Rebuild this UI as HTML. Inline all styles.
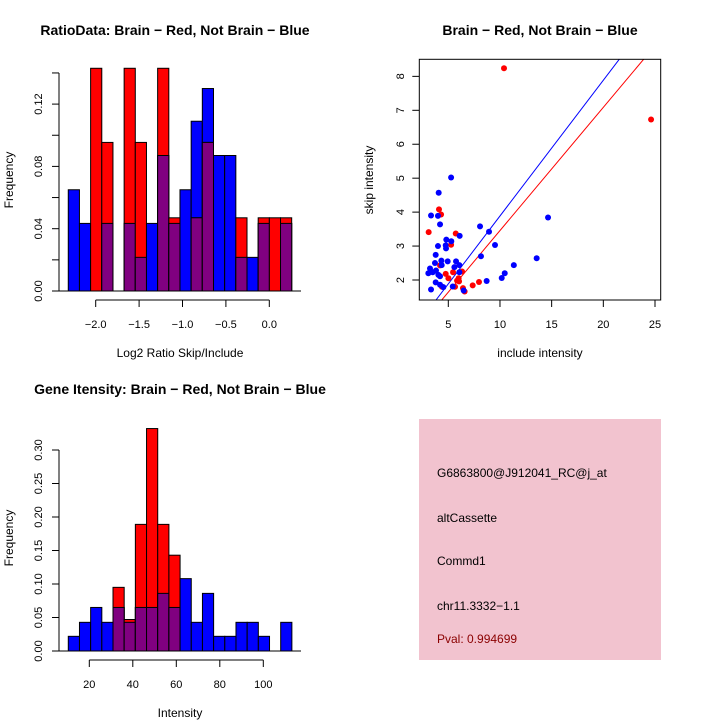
<!DOCTYPE html>
<html><head><meta charset="utf-8"><style>
html,body{margin:0;padding:0;background:#fff}
svg{display:block;font-family:"Liberation Sans",sans-serif}
</style></head><body>
<svg id="chart" width="720" height="720" viewBox="0 0 720 720" xmlns="http://www.w3.org/2000/svg">
<rect width="720" height="720" fill="#fff"/>
<text x="175" y="35" text-anchor="middle" font-size="14" font-weight="bold">RatioData: Brain − Red, Not Brain − Blue</text>
<text x="180" y="357" text-anchor="middle" font-size="12">Log2 Ratio Skip/Include</text>
<text transform="translate(13,180) rotate(-90)" text-anchor="middle" font-size="12">Frequency</text>
<text x="540" y="35" text-anchor="middle" font-size="14" font-weight="bold">Brain − Red, Not Brain − Blue</text>
<text x="540" y="357" text-anchor="middle" font-size="12">include intensity</text>
<text transform="translate(373,180) rotate(-90)" text-anchor="middle" font-size="12">skip intensity</text>
<text x="180" y="394" text-anchor="middle" font-size="14" font-weight="bold">Gene Itensity: Brain − Red, Not Brain − Blue</text>
<text x="180" y="717" text-anchor="middle" font-size="12">Intensity</text>
<text transform="translate(13,538) rotate(-90)" text-anchor="middle" font-size="12">Frequency</text>
<g>
<rect x="419" y="419" width="242" height="241" fill="#f2c3cf"/>
<text x="437" y="477" font-size="12">G6863800@J912041_RC@j_at</text>
<text x="437" y="522" font-size="12">altCassette</text>
<text x="437" y="565" font-size="12">Commd1</text>
<text x="437" y="610" font-size="12">chr11.3332−1.1</text>
<text x="437" y="643" font-size="12" fill="#8b0000">Pval: 0.994699</text>
</g>
<g id="g1"></g><g id="g2"></g><g id="g3"></g>
</svg>
<script>
// ---- Ratio histogram data ----
var ratioStart = -2.316, ratioBin = 0.1287;
var ratioBlue = [0.065,0.0434,0,0.0434,0,0.0434,0.0216,0.0434,0.087,0.0434,0.065,0.109,0.130,0.087,0.087,0.0216,0.0216,0.0434,0,0.0434];
var ratioRed  = [0,0,0.143,0.0954,0,0.143,0.0954,0,0.143,0.047,0,0.047,0.0954,0,0,0.047,0,0.047,0.047,0.047];
var ratioYTicks = [0,0.02,0.04,0.06,0.08,0.10,0.12,0.14];
var ratioYLabels = ["0.00","","0.04","","0.08","","0.12",""];
var ratioXTicks = [-2.0,-1.5,-1.0,-0.5,0.0];
var ratioXLabels = ["−2.0","−1.5","−1.0","−0.5","0.0"];
// ---- Intensity histogram data ----
var intStart = 10.34, intBin = 5.14;
var intBlue = [0.0219,0.0428,0.065,0.0428,0.065,0.0428,0.065,0.065,0.086,0.065,0.108,0.0428,0.086,0.0219,0.0219,0.0428,0.0428,0.0219,0,0.0428];
var intRed  = [0,0,0,0,0.095,0.047,0.189,0.332,0.189,0.143,0,0,0,0,0,0,0,0,0,0];
var intYTicks = [0,0.05,0.10,0.15,0.20,0.25,0.30];
var intYLabels = ["0.00","0.05","0.10","0.15","0.20","0.25","0.30"];
var intXTicks = [20,40,60,80,100];
// ---- Scatter data ----
var redX = [10.39,24.62,3.10,4.10,4.30,5.72,5.27,4.20,4.75,5.01,5.46,5.85,6.04,6.33,4.39,5.65,6.42,6.58,7.36,7.97,6.00];
var redY = [8.24,6.73,3.41,4.08,3.93,3.37,3.04,2.43,2.18,2.05,2.23,1.98,1.96,2.25,1.80,1.80,1.76,1.66,1.84,1.94,2.05];
var blueX = [5.27,4.07,3.33,4.00,4.20,14.65,8.07,8.94,6.10,4.81,5.29,4.00,4.78,9.52,3.78,8.16,13.55,4.33,4.94,5.75,3.71,4.36,5.59,6.07,11.34,3.23,3.49,3.07,4.04,6.07,10.46,10.17,4.20,3.78,4.20,8.71,4.52,5.43,3.33,6.49,3.81,4.75];
var blueY = [5.02,4.57,3.90,3.89,3.64,3.84,3.58,3.42,3.30,3.19,3.14,3.00,2.93,3.03,2.74,2.70,2.64,2.57,2.55,2.55,2.50,2.44,2.38,2.44,2.44,2.34,2.23,2.20,2.15,2.23,2.20,2.06,2.11,1.93,1.86,1.97,1.79,1.81,1.72,1.69,2.28,3.02];
var lineSlope = [0.40,0.363];
var lineIntercept = [-0.114,-0.173];
var lineColor = ["#0000ff","#ff0000"];
var scXTicks = [5,10,15,20,25];
var scYTicks = [2,3,4,5,6,7,8];

var NS="http://www.w3.org/2000/svg";
function mk(parent,tag,attrs){var e=document.createElementNS(NS,tag);for(var k in attrs)e.setAttribute(k,attrs[k]);parent.appendChild(e);return e;}

function hist(g,start,bin,blue,red,px0,pxPer,y0,yPer,yTicks,yLabels,xTicks,xLabels,axisY,name){
  var sx=function(v){return px0+(v-start)*pxPer;};
  var sy=function(v){return y0-v*yPer;};
  for(var i=0;i<blue.length;i++){
    var x=sx(start+i*bin), w=bin*pxPer;
    var b=blue[i], r=red[i];
    if(b>0){var e=mk(g,'rect',{x:x,y:sy(b),width:w,height:b*yPer,fill:'#0000ff',stroke:'#000','stroke-width':1});
      
      }
    if(r>0){var e2=mk(g,'rect',{x:x,y:sy(r),width:w,height:r*yPer,fill:'#ff0000',stroke:'#000','stroke-width':1});
      
      }
    var m=Math.min(b,r);
    if(m>0){var e3=mk(g,'rect',{x:x,y:sy(m),width:w,height:m*yPer,fill:'#800080',stroke:'#000','stroke-width':1});
      
      }
  }
  mk(g,'line',{x1:52,y1:y0,x2:301,y2:y0,stroke:'#000'});
  var top=sy(yTicks[yTicks.length-1]);
  var ya=mk(g,'line',{x1:59,y1:y0,x2:59,y2:top,stroke:'#000'});
  
  
  yTicks.forEach(function(t,i){
    var y=sy(t);
    mk(g,'line',{x1:52,y1:y,x2:59,y2:y,stroke:'#000'});
    if(yLabels[i]){var tx=mk(g,'text',{transform:'translate(42,'+y+') rotate(-90)','text-anchor':'middle','font-size':11});
      tx.textContent=yLabels[i];
      
      }
  });
  var xa=mk(g,'line',{x1:sx(xTicks[0]),y1:axisY,x2:sx(xTicks[xTicks.length-1]),y2:axisY,stroke:'#000'});
  
  
  xTicks.forEach(function(t,i){
    var x=sx(t);
    mk(g,'line',{x1:x,y1:axisY,x2:x,y2:axisY+7,stroke:'#000'});
    var tx=mk(g,'text',{x:x,y:axisY+28,'text-anchor':'middle','font-size':11});
    tx.textContent=xLabels[i];
    
    
  });
}
// ratio: pixel 95.7 at -2.0, 86.8 px/unit
hist(document.getElementById('g1'),ratioStart,ratioBin,ratioBlue,ratioRed,
  95.7+(ratioStart+2.0)*86.8,86.8,291,1557.5,ratioYTicks,ratioYLabels,ratioXTicks,ratioXLabels,300,'ratio');
hist(document.getElementById('g3'),intStart,intBin,intBlue,intRed,
  89.3+(intStart-20)*2.175,2.175,651,670,intYTicks,intYLabels,intXTicks,intXTicks.map(String),660,'intensity');

// scatter
(function(){
  var g=document.getElementById('g2');
  var sx=function(v){return 448.3+(v-5)*10.335;};
  var sy=function(v){return 280-(v-2)*33.94;};
  var L=419.3,R=660.7,T=59.3,B=300;
  var cp=mk(g,'clipPath',{id:'scclip'});
  mk(cp,'rect',{x:L,y:T,width:R-L,height:B-T});
  for(var k=0;k<lineSlope.length;k++){
    var xa=(1.0), xb=30;
    var ln=mk(g,'line',{x1:sx(xa),y1:sy(lineSlope[k]*xa+lineIntercept[k]),x2:sx(xb),y2:sy(lineSlope[k]*xb+lineIntercept[k]),stroke:lineColor[k],'stroke-width':1,'clip-path':'url(#scclip)'});
    
    
  }
  for(var i=0;i<redX.length;i++){
    var c=mk(g,'circle',{cx:sx(redX[i]),cy:sy(redY[i]),r:3,fill:'#ff0000'});
    
    
  }
  for(var j=0;j<blueX.length;j++){
    var c2=mk(g,'circle',{cx:sx(blueX[j]),cy:sy(blueY[j]),r:3,fill:'#0000ff'});
    
    
  }
  var box=mk(g,'rect',{x:L,y:T,width:R-L,height:B-T,fill:'none',stroke:'#000'});
  
  
  scXTicks.forEach(function(t){
    var x=sx(t);
    mk(g,'line',{x1:x,y1:B,x2:x,y2:B+7,stroke:'#000'});
    var tx=mk(g,'text',{x:x,y:B+28,'text-anchor':'middle','font-size':11});
    tx.textContent=String(t);
    
    
  });
  scYTicks.forEach(function(t){
    var y=sy(t);
    mk(g,'line',{x1:L-7,y1:y,x2:L,y2:y,stroke:'#000'});
    var tx=mk(g,'text',{transform:'translate(404,'+y+') rotate(-90)','text-anchor':'middle','font-size':11});
    tx.textContent=String(t);
    
    
  });
})();
</script>
</body></html>
